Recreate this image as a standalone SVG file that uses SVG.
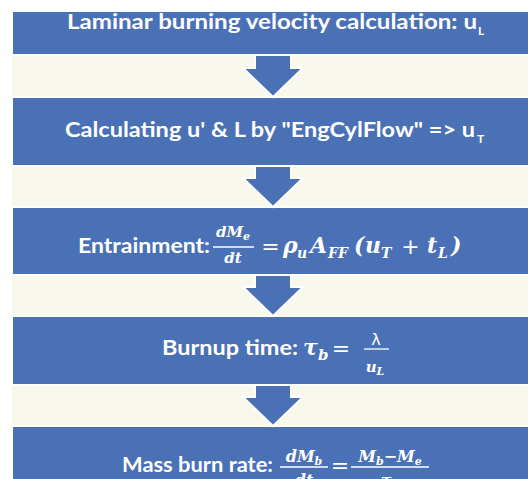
<svg xmlns="http://www.w3.org/2000/svg" width="528" height="479" viewBox="0 0 528 479">
<style>
.bg{fill:#F8F9EC}
.band{fill:#4A71B5;stroke:#FFFFFF;stroke-width:2}
.arrow{fill:#4A71B5;stroke:#FFFFFF;stroke-width:2;stroke-linejoin:miter}
.t{font-family:Lato,"Open Sans","Liberation Sans",sans-serif;font-weight:bold;font-size:21px;fill:#FFFFFF}
.sub{font-family:Lato,"Open Sans","Liberation Sans",sans-serif;font-weight:bold;font-size:12px;fill:#FFFFFF}
.m{font-family:"DejaVu Serif",serif;font-weight:bold;font-style:italic;fill:#FFFFFF}
.op{font-family:"DejaVu Sans",sans-serif;font-weight:normal;fill:#FFFFFF}
.bar{stroke:#FFFFFF;stroke-width:1.3}
</style>
<rect x="0" y="0" width="528" height="479" fill="#FFFFFF"/>
<rect class="bg" x="12" y="12" width="516" height="467"/>
<g id="node1">
<rect class="band" x="12" y="11" width="520" height="44"/>
<text class="t" x="67" y="29" textLength="410" lengthAdjust="spacingAndGlyphs">Laminar burning velocity calculation: u</text>
<text class="sub" x="478" y="35">L</text>
</g>
<g id="node2">
<rect class="band" x="12" y="97" width="520" height="69"/>
<text class="t" x="65" y="137" textLength="410" lengthAdjust="spacingAndGlyphs">Calculating u' &amp; L by "EngCylFlow" =&gt; u</text>
<text class="sub" x="477" y="143">T</text>
</g>
<g id="node3">
<rect class="band" x="12" y="207" width="520" height="68"/>
<text class="t" x="78" y="253" textLength="132" lengthAdjust="spacingAndGlyphs">Entrainment:</text>
<text class="m" x="233" y="237" font-size="15" text-anchor="middle">dM<tspan font-size="11" dy="3">e</tspan></text>
<line class="bar" x1="213" y1="247" x2="254" y2="247"/>
<text class="m" x="233" y="263" font-size="15" text-anchor="middle">dt</text>
<text class="op" x="270.5" y="254" font-size="22" text-anchor="middle">=</text>
<text class="m" x="283" y="253" font-size="22">ρ</text>
<text class="m" x="297" y="258" font-size="14">u</text>
<text class="m" x="310" y="253" font-size="22">A</text>
<text class="m" x="328" y="258" font-size="14">FF</text>
<text class="m" x="354" y="253" font-size="22">(</text>
<text class="m" x="365" y="253" font-size="22">u</text>
<text class="m" x="381" y="258" font-size="14">T</text>
<text class="op" x="410.5" y="254" font-size="22" text-anchor="middle">+</text>
<text class="m" x="427" y="253" font-size="22">t</text>
<text class="m" x="438" y="258" font-size="14">L</text>
<text class="m" x="451" y="253" font-size="22">)</text>
</g>
<g id="node4">
<rect class="band" x="12" y="316" width="520" height="69"/>
<text class="t" x="162" y="355" textLength="136" lengthAdjust="spacingAndGlyphs">Burnup time:</text>
<text class="m" x="303" y="355" font-size="22">τ</text>
<text class="m" x="318" y="360" font-size="15">b</text>
<text class="op" x="341" y="356" font-size="22" text-anchor="middle">=</text>
<text class="op" x="376" y="345" font-size="16" text-anchor="middle">λ</text>
<line class="bar" x1="364" y1="349" x2="389" y2="349"/>
<text class="m" x="375" y="372" font-size="15" text-anchor="middle">u<tspan font-size="11" dy="3">L</tspan></text>
</g>
<g id="node5">
<rect class="band" x="12" y="426" width="520" height="60"/>
<text class="t" x="122" y="472" textLength="151" lengthAdjust="spacingAndGlyphs">Mass burn rate:</text>
<text class="m" x="304" y="462" font-size="16" text-anchor="middle">dM<tspan font-size="11" dy="3">b</tspan></text>
<line class="bar" x1="280" y1="467" x2="328" y2="467"/>
<text class="m" x="304" y="486" font-size="16" text-anchor="middle">dt</text>
<text class="op" x="340" y="473" font-size="22" text-anchor="middle">=</text>
<text class="m" x="390" y="462" font-size="16" text-anchor="middle">M<tspan font-size="11" dy="3">b</tspan><tspan dy="-3">−M</tspan><tspan font-size="11" dy="3">e</tspan></text>
<line class="bar" x1="351" y1="467" x2="429" y2="467"/>
<text class="m" x="390" y="486" font-size="16" text-anchor="middle">τ<tspan font-size="11" dy="2">b</tspan></text>
</g>
<g id="connectors">
<polygon class="arrow" points="255,55 291,55 291,68 303,68 273,97 243,68 255,68"/>
<polygon class="arrow" points="255,166 291,166 291,178 303,178 273,207 243,178 255,178"/>
<polygon class="arrow" points="255,275 291,275 291,287 303,287 273,316 243,287 255,287"/>
<polygon class="arrow" points="255,385 291,385 291,397 303,397 273,426 243,397 255,397"/>
</g>
</svg>
